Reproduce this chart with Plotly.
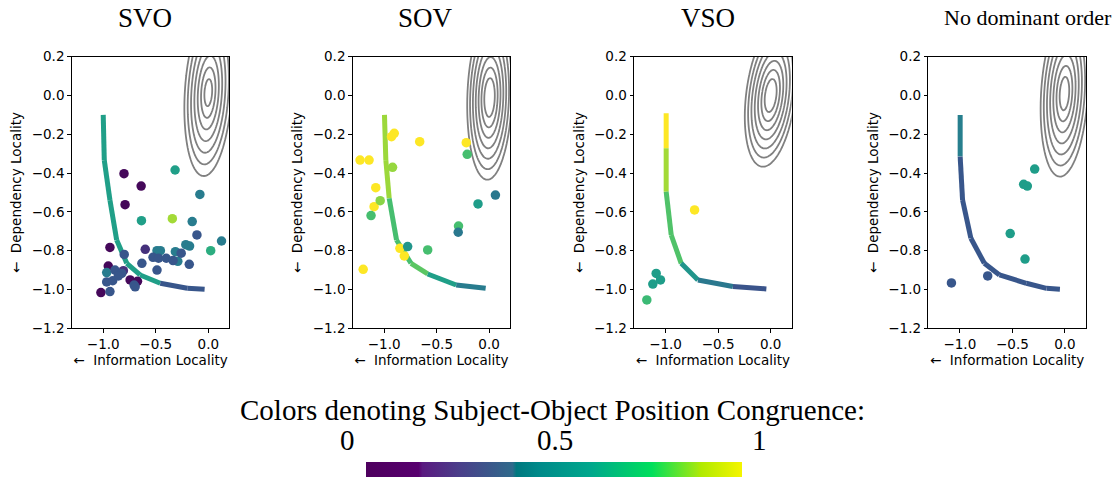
import numpy as np
import plotly.graph_objects as go
from plotly.colors import sample_colorscale

W, H = 1120, 477

panel_titles = ["SVO", "SOV", "VSO", "No dominant order"]
title_x_px = [145, 425, 708, 1028]
title_sizes = [27, 27, 27, 22]

# ---------------- scatter points (x = information locality, y = dependency locality, c = congruence)
svo_x = [-0.802, -0.639, -0.792, -0.936, -0.952, -0.744, -0.674, -1.022,
         -0.600, -0.808,
         -0.316, -0.636, 0.023, -0.342,
         -0.080, -0.153, 0.126, -0.214, -0.178, -0.488, -0.456, -0.313, -0.290, -0.967,
         -0.108, -0.800, -0.526, -0.473, -0.400, -0.258, -0.335, -0.181, -0.632, -0.488,
         -0.888, -0.824, -0.967, -0.910, -0.706, -0.696, -0.936, -0.856]
svo_y = [-0.403, -0.467, -0.563, -0.783, -0.879, -0.951, -0.958, -1.016,
         -0.793, -0.903,
         -0.384, -0.645, -0.800, -0.635,
         -0.510, -0.650, -0.750, -0.769, -0.776, -0.800, -0.800, -0.805, -0.855, -0.913,
         -0.719, -0.819, -0.834, -0.839, -0.839, -0.813, -0.851, -0.870, -0.865, -0.900,
         -0.900, -0.917, -0.961, -0.955, -0.977, -0.986, -1.011, -0.930]
svo_c = [0.02, 0.02, 0.02, 0.02, 0.02, 0.02, 0.02, 0.02,
         0.14, 0.14,
         0.56, 0.56, 0.62, 0.86,
         0.42, 0.42, 0.42, 0.42, 0.42, 0.42, 0.42, 0.42, 0.42, 0.42,
         0.27, 0.27, 0.27, 0.27, 0.27, 0.27, 0.27, 0.27, 0.27, 0.27,
         0.27, 0.27, 0.27, 0.27, 0.27, 0.27, 0.27, 0.27]

sov_x = [-1.230, -1.144, -1.080, -1.096, -0.930, -0.904, -0.661, -0.217, -1.200, -0.850, -0.808,
         -1.038, -0.920,
         -1.125, -0.208, -0.585, -0.291,
         -0.105, -0.776,
         -0.294, 0.061]
sov_y = [-0.333, -0.333, -0.475, -0.573, -0.212, -0.195, -0.238, -0.243, -0.896, -0.788, -0.827,
         -0.542, -0.370,
         -0.619, -0.303, -0.796, -0.673,
         -0.559, -0.779,
         -0.705, -0.513]
sov_c = [1.0, 1.0, 1.0, 1.0, 1.0, 1.0, 1.0, 1.0, 1.0, 1.0, 1.0,
         0.82, 0.84,
         0.70, 0.70, 0.70, 0.70,
         0.55, 0.52,
         0.40, 0.40]

vso_x = [-0.724, -1.089, -1.121, -1.048, -1.178]
vso_y = [-0.590, -0.917, -0.972, -0.951, -1.054]
vso_c = [1.0, 0.55, 0.55, 0.55, 0.68]

nd_x = [-0.288, -0.393, -0.358, -0.521, -0.380, -1.080, -0.735]
nd_y = [-0.379, -0.458, -0.467, -0.712, -0.843, -0.966, -0.930]
nd_c = [0.55, 0.55, 0.55, 0.55, 0.55, 0.27, 0.27]

# ---------------- frontier curves (vertices) and per-segment congruence
svo_curve_x = [-1.000, -0.990, -0.936, -0.872, -0.776, -0.649, -0.457, -0.200, -0.035]
svo_curve_y = [-0.100, -0.333, -0.539, -0.745, -0.865, -0.925, -0.968, -0.994, -0.999]
svo_curve_c = [0.56, 0.56, 0.56, 0.56, 0.56, 0.56, 0.27, 0.27]

sov_curve_x = [-0.997, -0.984, -0.952, -0.882, -0.744, -0.585, -0.313, -0.032]
sov_curve_y = [-0.100, -0.333, -0.530, -0.745, -0.865, -0.920, -0.977, -0.994]
sov_curve_c = [0.85, 0.85, 0.70, 0.70, 0.74, 0.56, 0.42]

vso_curve_x = [-0.994, -0.994, -0.994, -0.946, -0.851, -0.692, -0.359, -0.041]
vso_curve_y = [-0.092, -0.272, -0.496, -0.719, -0.865, -0.951, -0.985, -0.997]
vso_curve_c = [1.0, 0.86, 0.72, 0.72, 0.52, 0.40, 0.26]

nd_curve_x = [-0.997, -0.997, -0.974, -0.895, -0.767, -0.623, -0.367, -0.176, -0.048]
nd_curve_y = [-0.100, -0.315, -0.539, -0.736, -0.865, -0.925, -0.968, -0.994, -0.999]
nd_curve_c = [0.43, 0.27, 0.27, 0.27, 0.27, 0.27, 0.27, 0.27]

# ---------------- baseline density rings: (center x, center y, x/y width ratio, tilt, first level, level step)
svo_density = (0.000, 0.015, 0.52, 0.10, 0.070, 0.060)
sov_density = (0.005, -0.010, 0.50, 0.05, 0.100, 0.054)
vso_density = (0.000, 0.000, 0.64, 0.20, 0.085, 0.047)
nd_density = (-0.005, 0.010, 0.52, 0.10, 0.086, 0.057)
n_rings = 7

# ---------------- color-bar legend
cbar_ticks = ["0", "0.5", "1"]
cbar_tick_px = [347, 555, 759]
cbar_title = "Colors denoting Subject-Object Position Congruence:"
cbar_scale = [[0.0, "#4e005e"], [0.14, "#58006f"], [0.15, "#5a1a80"], [0.25, "#4a3f8a"],
              [0.39, "#2f6a8b"], [0.40, "#00787f"], [0.46, "#008a8a"], [0.60, "#00a88c"],
              [0.76, "#00df5c"], [0.88, "#a0e810"], [0.89, "#b0ea00"], [1.0, "#f5f500"]]

panels = [
    (svo_x, svo_y, svo_c, svo_curve_x, svo_curve_y, svo_curve_c, svo_density),
    (sov_x, sov_y, sov_c, sov_curve_x, sov_curve_y, sov_curve_c, sov_density),
    (vso_x, vso_y, vso_c, vso_curve_x, vso_curve_y, vso_curve_c, vso_density),
    (nd_x, nd_y, nd_c, nd_curve_x, nd_curve_y, nd_curve_c, nd_density),
]

# axes boxes in pixels (left, right); top/bottom shared
ax_lr_px = [(71.7, 229.3), (352.7, 510.0), (634.0, 791.7), (928.3, 1086.0)]
ax_top_px, ax_bot_px = 56.7, 328.3

SANS = "DejaVu Sans"
SERIF = "Liberation Serif"

fig = go.Figure()

gx = np.linspace(-0.8, 0.6, 141)
gy = np.linspace(-0.9, 0.9, 181)
GX, GY = np.meshgrid(gx, gy)

for i, (px, py, pc, cx, cy, cc, dens) in enumerate(panels):
    xa = "x" if i == 0 else f"x{i+1}"
    ya = "y" if i == 0 else f"y{i+1}"
    # density rings
    mx, my, ratio, tilt, r0, step = dens
    dy = GY - my
    dx = (GX - mx) - tilt * dy
    Z = np.sqrt((dx / ratio) ** 2 + dy ** 2)
    fig.add_trace(go.Contour(
        x=gx, y=gy, z=Z, xaxis=xa, yaxis=ya,
        contours=dict(coloring="lines", start=r0, end=r0 + (n_rings - 1) * step + 1e-6, size=step),
        line=dict(color="#808080", width=1.8, smoothing=1.0),
        colorscale=[[0, "#808080"], [1, "#808080"]],
        showscale=False, hoverinfo="skip"))
    # frontier curve segments
    seg_cols = sample_colorscale("Viridis", cc)
    for k in range(len(cc)):
        fig.add_trace(go.Scatter(
            x=cx[k:k + 2], y=cy[k:k + 2], xaxis=xa, yaxis=ya, mode="lines",
            line=dict(color=seg_cols[k], width=5), showlegend=False, hoverinfo="skip"))
    # points
    fig.add_trace(go.Scatter(
        x=px, y=py, xaxis=xa, yaxis=ya, mode="markers",
        marker=dict(color=pc, colorscale="Viridis", cmin=0, cmax=1, size=9.5, line=dict(width=0)),
        showlegend=False))

# dummy trace that carries the colour bar
fig.add_trace(go.Scatter(
    x=[-5], y=[-5], mode="markers", xaxis="x", yaxis="y",
    marker=dict(color=[0.5], coloraxis="coloraxis", opacity=0),
    showlegend=False, hoverinfo="skip"))

layout = dict(
    width=W, height=H, margin=dict(l=0, r=0, t=0, b=0),
    paper_bgcolor="white", plot_bgcolor="white", showlegend=False,
    font=dict(family=SANS, size=13.5, color="black"),
    coloraxis=dict(
        colorscale=cbar_scale, cmin=0, cmax=1,
        colorbar=dict(orientation="h", x=366 / W, xanchor="left", y=0, yanchor="bottom",
                      len=376, lenmode="pixels", thickness=15, thicknessmode="pixels",
                      xpad=0, ypad=0, outlinewidth=0, showticklabels=False, ticks="")),
)

annotations = []
for i, (l, r) in enumerate(ax_lr_px):
    sfx = "" if i == 0 else str(i + 1)
    layout["xaxis" + sfx] = dict(
        domain=[l / W, r / W], range=[-1.3, 0.2], anchor="y" + sfx,
        tick0=0, dtick=0.5, tickformat=".1f", ticks="outside", ticklen=3.5, tickwidth=1,
        tickcolor="black", showline=True, mirror=True, linecolor="black", linewidth=1,
        showgrid=False, zeroline=False, automargin=False,
        tickfont=dict(family=SANS, size=13.5),
        title=dict(text="\u2190\u00a0 Information Locality", font=dict(family=SANS, size=13.5), standoff=4))
    layout["yaxis" + sfx] = dict(
        domain=[1 - ax_bot_px / H, 1 - ax_top_px / H], range=[-1.2001, 0.2001], anchor="x" + sfx,
        tick0=0, dtick=0.2, tickformat=".1f", ticks="outside", ticklen=3.5, tickwidth=1,
        tickcolor="black", showline=True, mirror=True, linecolor="black", linewidth=1,
        showgrid=False, zeroline=False, automargin=False,
        tickfont=dict(family=SANS, size=13.5),
        title=dict(text="\u2190\u00a0 Dependency Locality", font=dict(family=SANS, size=13.5), standoff=6))
    annotations.append(dict(
        text=panel_titles[i], x=title_x_px[i] / W, y=1 - 18 / H, xref="paper", yref="paper",
        xanchor="center", yanchor="middle", showarrow=False,
        font=dict(family=SERIF, size=title_sizes[i], color="black")))

annotations.append(dict(
    text=cbar_title, x=552 / W, y=1 - 410 / H, xref="paper", yref="paper",
    xanchor="center", yanchor="middle", showarrow=False,
    font=dict(family=SERIF, size=29, color="black")))
for t, xp in zip(cbar_ticks, cbar_tick_px):
    annotations.append(dict(
        text=t, x=xp / W, y=1 - 440 / H, xref="paper", yref="paper",
        xanchor="center", yanchor="middle", showarrow=False,
        font=dict(family=SERIF, size=29, color="black")))

layout["annotations"] = annotations
fig.update_layout(**layout)
fig.write_html("out.html")
